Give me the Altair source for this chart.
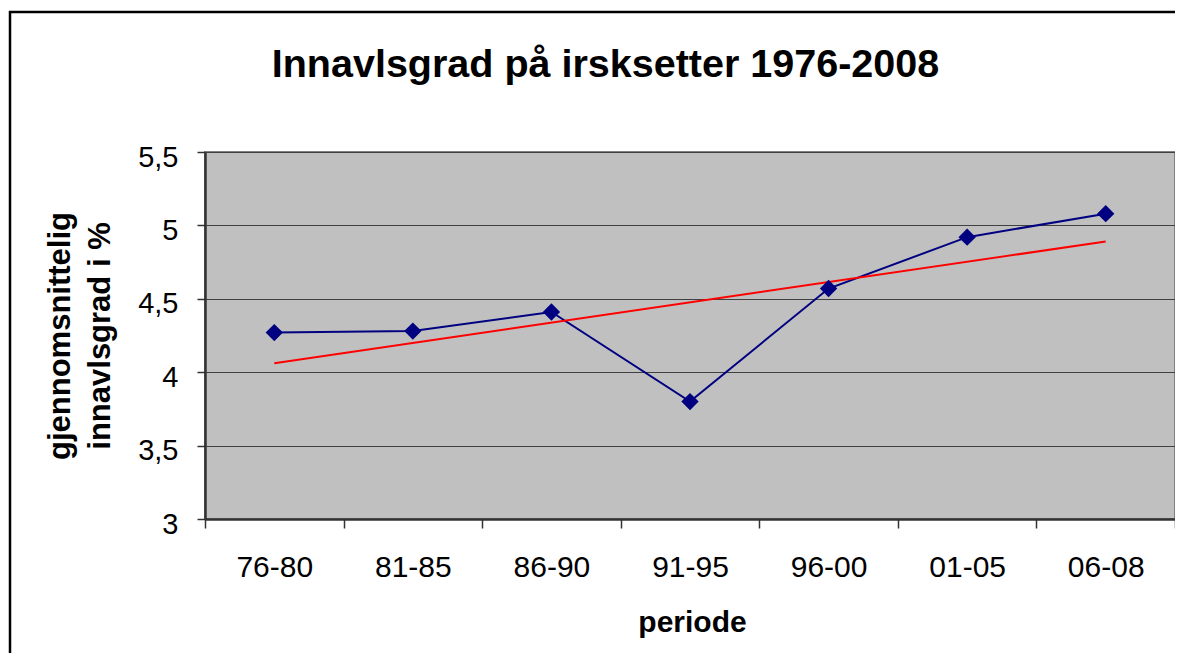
import json
import altair as alt
import pandas as pd

# ---- data ----
perioder = ["76-80", "81-85", "86-90", "91-95", "96-00", "01-05", "06-08"]
innavlsgrad = [4.27, 4.28, 4.41, 3.80, 4.57, 4.92, 5.08]
periode_nr = [0, 1, 2, 3, 4, 5, 6]
y_ticks = [3, 3.5, 4, 4.5, 5, 5.5]

title_text = "Innavlsgrad på irsksetter 1976-2008"
x_title = "periode"
y_title = ["gjennomsnittelig", "innavlsgrad i %"]

df = pd.DataFrame({"periode": perioder, "nr": periode_nr, "verdi": innavlsgrad})

FONT = "Liberation Sans"
W, H = 970, 367
PAD = {"left": 197, "top": 144, "right": 0, "bottom": 134}

x_enc = alt.X(
    "periode:N",
    sort=perioder,
    scale=alt.Scale(type="band", domain=perioder, paddingInner=0, paddingOuter=0),
    axis=alt.Axis(
        title=x_title,
        labelAngle=0,
        tickBand="extent",
        grid=False,
        tickSize=9,
        tickColor="#333333",
        tickWidth=1.5,
        domainColor="#333333",
        domainWidth=2.5,
        labelPadding=24,
        labelFont=FONT,
        labelFontSize=30,
        labelColor="black",
        titleFont=FONT,
        titleFontSize=30,
        titleFontWeight="bold",
        titleColor="black",
        titleBaseline="alphabetic",
        titleAlign="center",
        titleX=487,
        titleY=112,
    ),
)

y_enc = alt.Y(
    "verdi:Q",
    scale=alt.Scale(domain=[3, 5.5], nice=False, zero=False),
    axis=alt.Axis(
        title=y_title,
        values=y_ticks,
        labelExpr="replace(format(datum.value, '~g'), '.', ',')",
        grid=True,
        gridColor="#404040",
        gridWidth=1.2,
        tickSize=8,
        tickColor="#333333",
        tickWidth=1.5,
        domainColor="#333333",
        domainWidth=2.5,
        labelPadding=19,
        labelOffset=5,
        labelFont=FONT,
        labelFontSize=29,
        labelColor="black",
        titleFont=FONT,
        titleFontSize=31,
        titleFontWeight="bold",
        titleColor="black",
        titleAngle=270,
        titleAlign="center",
        titleBaseline="middle",
        titleLineHeight=40,
        titleX=-145,
        titleY=H / 2,
    ),
)

base = alt.Chart(df)

data_line = base.mark_line(color="#000080", strokeWidth=2).encode(x=x_enc, y=y_enc)
data_pts = base.mark_point(
    shape="diamond", filled=True, color="#000080", size=300, opacity=1
).encode(x=x_enc, y=y_enc)

trend = (
    base.transform_regression("nr", "verdi", method="linear")
    .transform_calculate(periode=f"{json.dumps(perioder)}[datum.nr]")
    .mark_line(color="#FF0000", strokeWidth=2)
    .encode(x=x_enc, y=y_enc)
)

deco = alt.Chart(pd.DataFrame({"f": [0]}))

# outer chart frame: top and left edges, kept inside the drawing area
frame_top = deco.mark_rule(color="black", strokeWidth=2.5).encode(
    x=alt.value(-196), x2=alt.value(W), y=alt.value(-140)
)
frame_left = deco.mark_rule(color="black", strokeWidth=2.5).encode(
    x=alt.value(-195), y=alt.value(-141), y2=alt.value(H + PAD["bottom"])
)

title = deco.mark_text(
    font=FONT, fontSize=39.5, fontWeight="bold", color="black",
    align="center", baseline="alphabetic",
).encode(x=alt.value(400.5), y=alt.value(-75), text=alt.value(title_text))

chart = (
    alt.layer(frame_top, frame_left, title, data_line, trend, data_pts)
    .properties(
        width=W,
        height=H,
        background="white",
        padding=PAD,
        autosize=alt.AutoSizeParams(type="none"),
    )
    .configure_view(fill="#C0C0C0", stroke="#808080", strokeWidth=2)
)

chart.save("out.html", embed_options={"renderer": "svg", "actions": False})
